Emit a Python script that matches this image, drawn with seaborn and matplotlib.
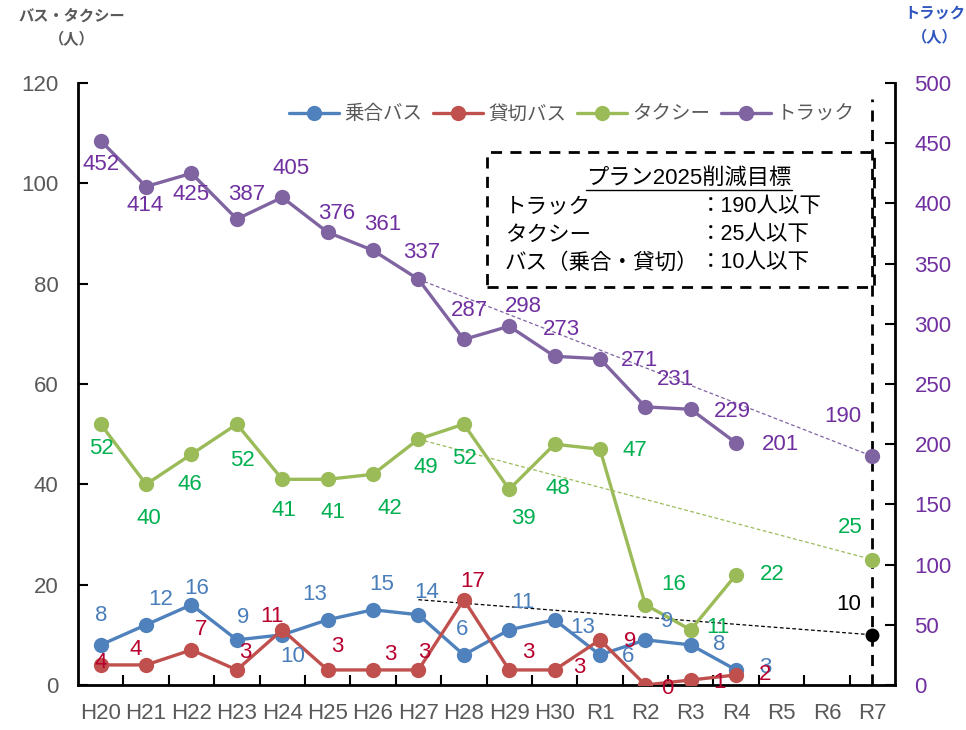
import numpy as np
import pandas as pd
import matplotlib
matplotlib.use("Agg")
import matplotlib.pyplot as plt
import seaborn as sns
from matplotlib.lines import Line2D
from matplotlib.patches import Rectangle

# ---------------- data ----------------
years = ['H20', 'H21', 'H22', 'H23', 'H24', 'H25', 'H26', 'H27', 'H28', 'H29',
         'H30', 'R1', 'R2', 'R3', 'R4', 'R5', 'R6', 'R7']
bus = [8, 12, 16, 9, 10, 13, 15, 14, 6, 11, 13, 6, 9, 8, 3]          # 乗合バス
charter = [4, 4, 7, 3, 11, 3, 3, 3, 17, 3, 3, 9, 0, 1, 2]           # 貸切バス
taxi = [52, 40, 46, 52, 41, 41, 42, 49, 52, 39, 48, 47, 16, 11, 22]  # タクシー
truck = [452, 414, 425, 387, 405, 376, 361, 337, 287, 298, 273, 271, 231, 229, 201]  # トラック
series_names = ['乗合バス', '貸切バス', 'タクシー', 'トラック']
base_year = 'H27'
target_year = 'R7'
target_truck = 190
target_taxi = 25
target_bus = 10
left_ticks = [0, 20, 40, 60, 80, 100, 120]
right_ticks = [0, 50, 100, 150, 200, 250, 300, 350, 400, 450, 500]
box_title = 'プラン2025削減目標'
box_rows = [('トラック', '：190人以下'), ('タクシー', '：25人以下'), ('バス（乗合・貸切）', '：10人以下')]

# ---------------- style ----------------
c_bus, c_charter, c_taxi, c_truck = '#4F81BD', '#C0504D', '#9BBB59', '#8064A2'
l_bus, l_charter, l_taxi, l_truck = '#4A7EBB', '#B8002E', '#00B050', '#7030A0'
gray = '#595959'

# label offsets in pixels (dx, dy)
off_bus = [(0, 29), (15, 25), (5, 16), (6, 22), (10, -22), (-13, 25), (9, 25), (8, 22),
           (-2, 25), (14, 27), (28, -8), (28, -2), (22, 18), (28, 0), (29, 2)]
off_charter = [(0, 2), (-10, 15), (10, 20), (8, 17), (-10, 13), (10, 23), (17, 15), (6, 17),
               (9, 18), (19, 17), (25, 2), (30, -2), (22, -3), (29, -3), (29, 0)]
off_taxi = [(1, -24), (3, -34), (-2, -30), (6, -36), (2, -31), (5, -33), (17, -34), (7, -28),
            (1, -34), (14, -29), (3, -44), (35, -1), (28, 20), (27, 2), (36, 0)]
off_truck = [(0, -24), (-1, -19), (0, -21), (10, 25), (9, 29), (9, 19), (10, 26), (3, 27),
             (6, 29), (14, 20), (7, 27), (40, -2), (30, 27), (42, -2), (44, -2)]

sns.set_theme(style='white')
plt.rcParams['font.family'] = ['Liberation Sans', 'Noto Sans CJK JP', 'DejaVu Sans']
plt.rcParams['axes.unicode_minus'] = False

W, H = 966, 730
fig = plt.figure(figsize=(W / 100, H / 100), dpi=100)
ax = fig.add_axes([78 / W, 45 / H, 817 / W, 602 / H])
ax2 = ax.twinx()

n = len(bus)
idx = list(range(n))
df = pd.DataFrame({
    'x': idx * 3,
    'value': bus + charter + taxi,
    'series': [series_names[0]] * n + [series_names[1]] * n + [series_names[2]] * n,
})
df_truck = pd.DataFrame({'x': idx, 'value': truck, 'series': series_names[3]})

xb = years.index(base_year)
xt = years.index(target_year)

# projection lines (thin dashed)
proj_bus = pd.DataFrame({'x': [xb, xt], 'value': [bus[xb] + charter[xb], target_bus]})
proj_taxi = pd.DataFrame({'x': [xb, xt], 'value': [taxi[xb], target_taxi]})
proj_truck = pd.DataFrame({'x': [xb, xt], 'value': [truck[xb], target_truck]})
sns.lineplot(data=proj_bus, x='x', y='value', ax=ax, color='black', lw=0.9,
             linestyle=(0, (3, 2)), legend=False)
sns.lineplot(data=proj_taxi, x='x', y='value', ax=ax, color=c_taxi, lw=0.9,
             linestyle=(0, (3, 2)), legend=False)
sns.lineplot(data=proj_truck, x='x', y='value', ax=ax2, color=c_truck, lw=0.9,
             linestyle=(0, (3, 2)), legend=False)

# vertical dashed line at target year
ax.plot([xt, xt], [0, 116.8], color='black', lw=2, linestyle=(0, (4, 3)), zorder=1)

# main series
sns.lineplot(data=df, x='x', y='value', hue='series', hue_order=series_names[:3],
             palette=[c_bus, c_charter, c_taxi], marker='o', markersize=11,
             markeredgewidth=0, linewidth=2.4, estimator=None, sort=False,
             legend=False, ax=ax, zorder=3)
sns.lineplot(data=df_truck, x='x', y='value', color=c_truck, marker='o', markersize=11,
             markeredgewidth=0, linewidth=2.4, estimator=None, sort=False,
             legend=False, ax=ax2, zorder=3)

# target markers
ax.plot([xt], [target_taxi], 'o', color=c_taxi, ms=11, mew=0, zorder=4)
ax.plot([xt], [target_bus], 'o', color='black', ms=10, mew=0, zorder=4)
ax2.plot([xt], [target_truck], 'o', color=c_truck, ms=11, mew=0, zorder=4)

lab_fs = 16
def labels(a, vals, offs, col):
    for i, (v, o) in enumerate(zip(vals, offs)):
        a.annotate(str(v), (i, v), xytext=o, textcoords='offset pixels',
                   ha='center', va='center', color=col, fontsize=lab_fs, zorder=5)

labels(ax, bus, off_bus, l_bus)
labels(ax, charter, off_charter, l_charter)
labels(ax, taxi, off_taxi, l_taxi)
labels(ax2, truck, off_truck, l_truck)
ax.annotate(str(target_taxi), (xt, target_taxi), xytext=(-22, 32), textcoords='offset pixels',
            ha='center', va='center', color=l_taxi, fontsize=lab_fs)
ax.annotate(str(target_bus), (xt, target_bus), xytext=(-24, 30), textcoords='offset pixels',
            ha='center', va='center', color='black', fontsize=lab_fs)
ax2.annotate(str(target_truck), (xt, target_truck), xytext=(-29, 40), textcoords='offset pixels',
             ha='center', va='center', color=l_truck, fontsize=lab_fs)

# axes formatting
ax.set_xlim(-0.5, len(years) - 0.5)
ax.set_ylim(0, 120)
ax2.set_ylim(0, 500)
ax.set_xticks(range(len(years)))
ax.set_xticklabels(years)
ax.set_xticks([i + 0.5 for i in range(len(years) - 1)], minor=True)
ax.set_yticks(left_ticks)
ax2.set_yticks(right_ticks)
ax.set_xlabel('')
ax.set_ylabel('')
ax2.set_ylabel('')
ax.tick_params(axis='x', which='major', length=0, labelsize=16, labelcolor=gray, pad=13)
ax.tick_params(axis='x', which='minor', length=7, width=1.5, direction='in', color='black', bottom=True)
ax.tick_params(axis='y', length=7, width=1.5, direction='in', labelsize=16, labelcolor=gray, pad=14, color='black', left=True)
ax2.tick_params(axis='y', length=7, width=1.5, direction='in', labelsize=16, labelcolor=l_truck, pad=14, color='black', right=True)
for a in (ax, ax2):
    a.spines['top'].set_visible(False)
    for s in ('left', 'bottom', 'right'):
        a.spines[s].set_color('black')
        a.spines[s].set_linewidth(2)
    a.grid(False)
ax.spines['right'].set_visible(False)
ax2.spines['left'].set_visible(False)
ax2.spines['bottom'].set_visible(False)

# legend
handles = [Line2D([0], [0], color=c, marker='o', ms=11, mew=0, lw=2.4)
           for c in (c_bus, c_charter, c_taxi, c_truck)]
leg = ax2.legend(handles, series_names, loc='center', bbox_to_anchor=(0.604, 0.948),
                 ncol=4, frameon=False, fontsize=14, handlelength=2.6,
                 handletextpad=0.25, columnspacing=0.55)
for t in leg.get_texts():
    t.set_color(gray)

# target box
def fx(px):
    return px / W
def fy(py):
    return 1 - py / H

box = Rectangle((fx(487), fy(287)), fx(874) - fx(487), fy(152) - fy(287),
                transform=fig.transFigure, fill=False, edgecolor='black', lw=2,
                linestyle=(0, (4, 3)), zorder=6)
fig.patches.append(box)
tt = fig.text(fx(689), fy(178), box_title, ha='center', va='center', fontsize=16, color='black')
row_y = [207, 235, 263]
for (a_txt, b_txt), yy in zip(box_rows, row_y):
    fig.text(fx(505), fy(yy), a_txt, ha='left', va='center', fontsize=15.5, color='black')
    fig.text(fx(700), fy(yy), b_txt, ha='left', va='center', fontsize=15.5, color='black')

# axis titles
fig.text(fx(72), fy(16), 'バス・タクシー', ha='center', va='center', fontsize=11,
         fontweight='bold', color=gray)
fig.text(fx(72), fy(40), '（人）', ha='center', va='center', fontsize=11,
         fontweight='bold', color=gray)
fig.text(fx(935), fy(14), 'トラック', ha='center', va='center', fontsize=11,
         fontweight='bold', color='#2F55BE')
fig.text(fx(935), fy(38), '（人）', ha='center', va='center', fontsize=11,
         fontweight='bold', color='#2F55BE')

# underline for box title
fig.canvas.draw()
bb = tt.get_window_extent()
fig.add_artist(Line2D([bb.x0 / W, bb.x1 / W], [(bb.y0 - 1) / H, (bb.y0 - 1) / H],
                      transform=fig.transFigure, color='black', lw=1))

fig.savefig('out.png', dpi=100)
